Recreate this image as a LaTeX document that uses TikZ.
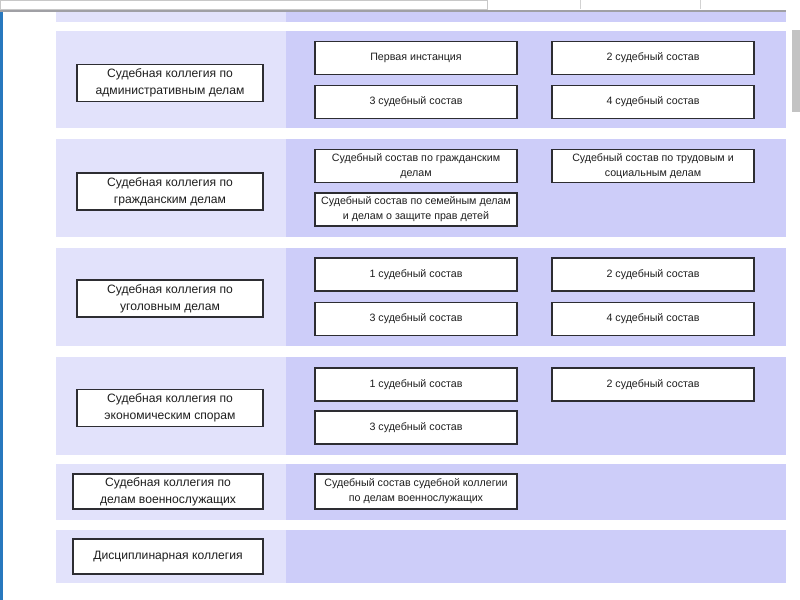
\documentclass[tikz,border=0pt]{standalone}
\usepackage{fontspec}
\setmainfont{Liberation Sans}
\usepackage{tikz}

\begin{document}
\begin{tikzpicture}[x=0.75pt,y=0.75pt,yscale=-1,xscale=1,
  kolbox/.style={draw={rgb, 255:red, 45; green, 45; blue, 50}, line width=0.8pt, fill=white, inner sep=0pt,
    minimum width=139.5pt, minimum height=27.75pt, align=center, text={rgb, 255:red, 30; green, 30; blue, 30},
    font=\fontsize{9.1}{12.8}\selectfont},
  sostbox/.style={draw={rgb, 255:red, 45; green, 45; blue, 50}, line width=0.8pt, fill=white, inner sep=0pt,
    minimum width=151.5pt, minimum height=24.75pt, align=center, text={rgb, 255:red, 30; green, 30; blue, 30},
    font=\fontsize{8}{11.2}\selectfont}]
\useasboundingbox (0,0) rectangle (800,600);
%uncomment if require: \path (0,600); %set diagram left start at 0, and has height of 600

%Window: top bar
\draw  [color={rgb, 255:red, 200; green, 200; blue, 200 }  ,draw opacity=1 ][fill=white] (0,0) -- (487,0) -- (487,9) -- (0,9) -- cycle ;
\draw  [color={rgb, 255:red, 160; green, 160; blue, 165 }  ,line width=0.8] (0,11) -- (786,11) ;
\draw  [color={rgb, 255:red, 210; green, 210; blue, 210 }  ] (580,0) -- (580,9) (700,0) -- (700,9) ;
%Window: left edge
\fill  [color={rgb, 255:red, 40; green, 120; blue, 190 }  ] (0,12) rectangle (3,600) ;
%Window: scroll bar
\fill  [color={rgb, 255:red, 195; green, 195; blue, 195 }  ] (792,30) rectangle (800,112) ;

%Bands: left part
\foreach \ya/\yb in {12/22, 31/128, 139/237, 248/346, 357/455, 464/520, 530/583}
  \fill [color={rgb, 255:red, 226; green, 226; blue, 251 }] (56,\ya) rectangle (286,\yb) ;
%Bands: right part
\foreach \ya/\yb in {12/22, 31/128, 139/237, 248/346, 357/455, 464/520, 530/583}
  \fill [color={rgb, 255:red, 205; green, 205; blue, 249 }] (286,\ya) rectangle (786,\yb) ;

%Collegia
\node [kolbox] (adm) at (170,83) {Судебная коллегия по\\административным делам};
\node [kolbox] (civ) at (170,191.5) {Судебная коллегия по\\гражданским делам};
\node [kolbox] (crim) at (170,298.5) {Судебная коллегия по\\уголовным делам};
\node [kolbox] (econ) at (170,408) {Судебная коллегия по\\экономическим спорам};
\node [kolbox, minimum width=142.5pt, minimum height=26.25pt] (mil) at (168,491.5) {Судебная коллегия по\\делам военнослужащих};
\node [kolbox, minimum width=142.5pt, minimum height=26.25pt] (disc) at (168,556.5) {Дисциплинарная коллегия};

%Sostavy: administrative
\node [sostbox] (adm1) at (416,58) {Первая инстанция};
\node [sostbox] (adm2) at (653,58) {2 судебный состав};
\node [sostbox] (adm3) at (416,102) {3 судебный состав};
\node [sostbox] (adm4) at (653,102) {4 судебный состав};
%Sostavy: civil
\node [sostbox] (civ1) at (416,166) {Судебный состав по гражданским\\делам};
\node [sostbox] (civ2) at (653,166) {Судебный состав по трудовым и\\социальным делам};
\node [sostbox] (civ3) at (416,209.5) {Судебный состав по семейным делам\\и делам о защите прав детей};
%Sostavy: criminal
\node [sostbox] (crim1) at (416,274.5) {1 судебный состав};
\node [sostbox] (crim2) at (653,274.5) {2 судебный состав};
\node [sostbox] (crim3) at (416,319) {3 судебный состав};
\node [sostbox] (crim4) at (653,319) {4 судебный состав};
%Sostavy: economic
\node [sostbox] (econ1) at (416,384.5) {1 судебный состав};
\node [sostbox] (econ2) at (653,384.5) {2 судебный состав};
\node [sostbox] (econ3) at (416,427.5) {3 судебный состав};
%Sostavy: military
\node [sostbox, minimum height=26.25pt] (mil1) at (416,491.5) {Судебный состав судебной коллегии\\по делам военнослужащих};

\end{tikzpicture}
\end{document}
